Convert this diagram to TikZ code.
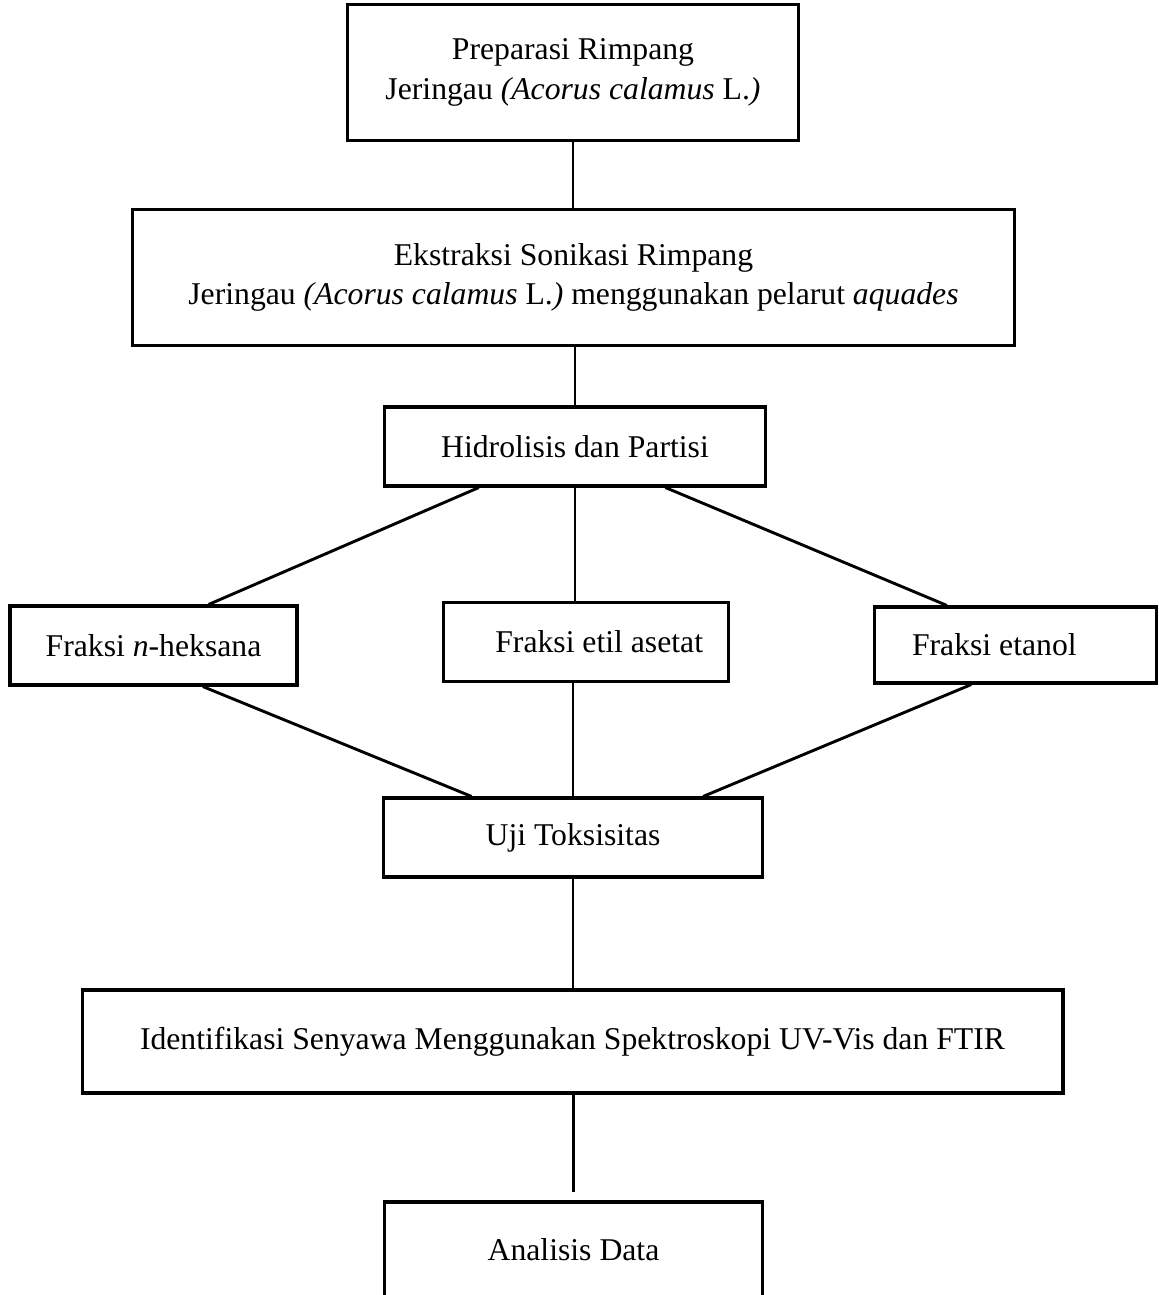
\documentclass[tikz,border=0pt]{standalone}
\usepackage{fontspec}
\setmainfont{Liberation Serif}
\usetikzlibrary{
  calc,
  positioning
}

\begin{document}
\begin{tikzpicture}[
      x=0.0133cm, y=-0.0133cm,
      kotak/.style={draw, line width=1.2pt, align=center,
                    font=\fontsize{12}{15}\selectfont, inner sep=2pt},
      garis/.style={line width=1.1pt},
      tegak/.style={line width=0.9pt}
  ]
      \useasboundingbox (0,0) rectangle (1159,1295);

      % Tahapan utama
      \node[kotak, minimum width=6cm, minimum height=1.8cm] (prep) at (573,72.5)
          {Preparasi Rimpang\\Jeringau \textit{(Acorus calamus} L.\textit{)}};
      \node[kotak, minimum width=11.74cm, minimum height=1.8cm] (ekstr) at (573.5,277.5)
          {Ekstraksi Sonikasi Rimpang\\Jeringau \textit{(Acorus calamus} L.\textit{)} menggunakan pelarut \textit{aquades}};
      \node[kotak, minimum width=5.08cm, minimum height=1.05cm] (hidro) at (575,446.5)
          {Hidrolisis dan Partisi};

      % Fraksi hasil partisi
      \node[kotak, minimum width=3.82cm, minimum height=1.05cm] (hek) at (153.5,645.5)
          {Fraksi \textit{n}-heksana};
      \node[kotak, minimum width=3.8cm, minimum height=1.06cm] (etil) at (586,642)
          {\hspace{10pt}Fraksi etil asetat};
      \node[kotak, minimum width=3.76cm, minimum height=1.01cm] (etan) at (1015.5,645)
          {Fraksi etanol\hspace{16pt}};

      % Uji dan analisis
      \node[kotak, minimum width=5.05cm, minimum height=1.05cm] (uji) at (573,837.5)
          {Uji Toksisitas};
      \node[kotak, minimum width=13.05cm, minimum height=1.37cm] (ident) at (572.5,1041.5)
          {Identifikasi Senyawa Menggunakan Spektroskopi UV-Vis dan FTIR};
      \node[kotak, minimum width=5.04cm, minimum height=1.28cm] (anal) at (573.5,1250)
          {Analisis Data};

      % Garis penghubung
      \draw[tegak] (prep.south) -- (prep.south |- ekstr.north);
      \draw[tegak] (hidro.north |- ekstr.south) -- (hidro.north);
      \draw[garis] ($(hidro.south)!0.5!(hidro.south west)$) -- ($(hek.north)!0.38!(hek.north east)$);
      \draw[tegak] (hidro.south) -- (hidro.south |- etil.north);
      \draw[garis] ($(hidro.south)!0.47!(hidro.south east)$) -- ($(etan.north)!0.48!(etan.north west)$);

      \draw[garis] ($(hek.south)!0.34!(hek.south east)$) -- ($(uji.north)!0.53!(uji.north west)$);
      \draw[tegak] (uji.north |- etil.south) -- (uji.north);
      \draw[garis] ($(etan.south)!0.31!(etan.south west)$) -- ($(uji.north)!0.68!(uji.north east)$);

      \draw[tegak] (uji.south) -- (uji.south |- ident.north);
      \draw[tegak, shorten >=3pt] (anal.north |- ident.south) -- (anal.north);
  \end{tikzpicture}
\end{document}
